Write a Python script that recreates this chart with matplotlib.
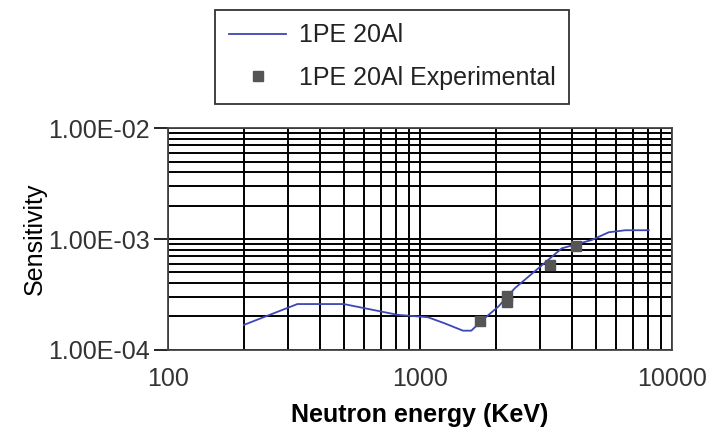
import numpy as np
import matplotlib.pyplot as plt
from matplotlib.lines import Line2D
from matplotlib.ticker import LogLocator, NullFormatter, FixedLocator, FixedFormatter

plt.rcParams['font.family'] = ['Liberation Sans', 'DejaVu Sans']

# calculated curve
energy = [200, 326, 498, 815, 1074, 1248, 1479, 1596, 1803, 2042, 2377, 2944, 3648, 4798, 5600, 6520, 8070]
sens = [1.68e-4, 2.59e-4, 2.59e-4, 2.07e-4, 1.97e-4, 1.74e-4, 1.49e-4, 1.49e-4, 1.93e-4, 2.45e-4,
        3.6e-4, 5.44e-4, 8.24e-4, 9.8e-4, 1.15e-3, 1.2e-3, 1.2e-3]

# experimental points
exp_energy = [1722, 2222, 2222, 3273, 4150]
exp_sens = [1.82e-4, 2.7e-4, 3.05e-4, 5.8e-4, 8.6e-4]
exp_err = [0.15e-4, 0.3e-4, 0.3e-4, 0.5e-4, 0.7e-4]

fig = plt.figure(figsize=(7.12, 4.33), dpi=100)
ax = fig.add_axes([0.236, 0.192, 0.708, 0.512])

ax.plot(energy, sens, color='#3c46b4', lw=1.3)
ax.errorbar(exp_energy, exp_sens, yerr=exp_err, fmt='s', color='#555555', ms=7,
            ecolor='#333333', elinewidth=1.2, capsize=0)

ax.set_xscale('log')
ax.set_yscale('log')
ax.set_xlim(100, 10000)
ax.set_ylim(1e-4, 1e-2)

ax.xaxis.set_minor_locator(LogLocator(base=10, subs=np.arange(2, 10)))
ax.yaxis.set_minor_locator(LogLocator(base=10, subs=np.arange(2, 10)))
ax.xaxis.set_minor_formatter(NullFormatter())
ax.yaxis.set_minor_formatter(NullFormatter())

ax.yaxis.set_major_locator(FixedLocator([1e-4, 1e-3, 1e-2]))
ax.yaxis.set_major_formatter(FixedFormatter(['1.00E-04', '1.00E-03', '1.00E-02']))
ax.xaxis.set_major_locator(FixedLocator([100, 1000, 10000]))
ax.xaxis.set_major_formatter(FixedFormatter(['100', '1000', '10000']))

ax.grid(True, which='both', color='black', lw=1.4)
ax.tick_params(axis='y', which='major', length=10, width=1.2, direction='out',
               labelsize=18, pad=3, labelcolor='#333333')
ax.tick_params(axis='y', which='minor', length=0)
ax.tick_params(axis='x', which='both', length=0, labelsize=18, pad=12, labelcolor='#333333')
for s in ax.spines.values():
    s.set_color('#444444')
    s.set_linewidth(1.3)

ax.set_xlabel('Neutron energy (KeV)', fontsize=18, fontweight='bold', labelpad=9)
ax.set_ylabel('Sensitivity', fontsize=18, labelpad=1)

h_line = Line2D([], [], color='#3c46b4', lw=1.3)
h_pts = Line2D([], [], ls='none', marker='s', color='#555555', ms=7)
leg = fig.legend(handles=[h_line, h_pts], labels=['1PE 20Al', '1PE 20Al Experimental'],
                 loc='center', bbox_to_anchor=(0.551, 0.869),
                 fontsize=18, frameon=True, fancybox=False, edgecolor='black',
                 handlelength=2.3, handletextpad=0.5, labelspacing=0.75,
                 borderpad=0.55, borderaxespad=0)
leg.get_frame().set_linewidth(1.3)
for t in leg.get_texts():
    t.set_color('#222222')

fig.savefig('out.png', dpi=100)
